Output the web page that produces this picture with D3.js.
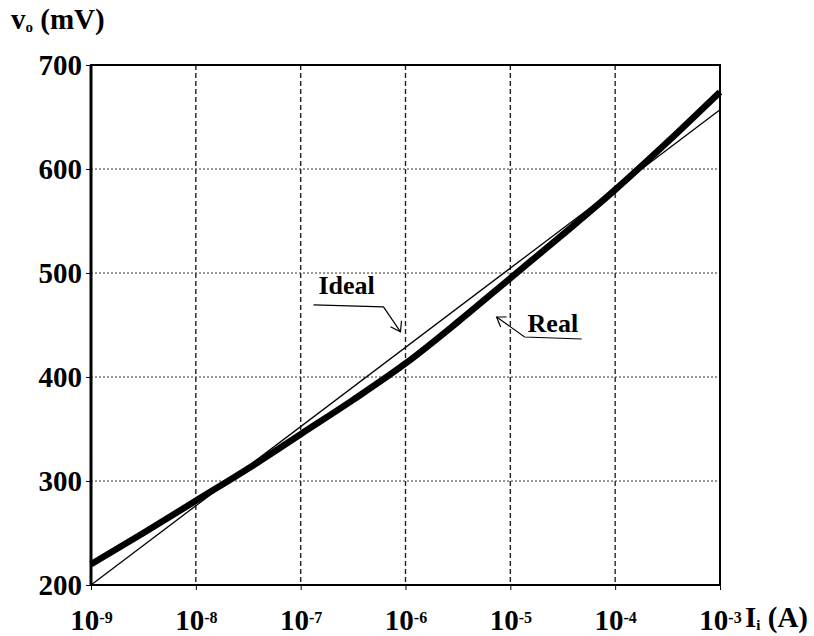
<!DOCTYPE html>
<meta charset="utf-8">
<style>
body { margin: 0; background: #fff; }
svg { font-family: "Liberation Serif", "DejaVu Serif", serif; font-weight: bold; }
.grid-x line { stroke: #222; stroke-width: 1.4; stroke-dasharray: 5,3; }
.grid-y line { stroke: #333; stroke-width: 1; stroke-dasharray: 2,2; }
.axis path, .axis line { stroke: #000; }
.axis text { font-size: 29px; fill: #000; font-family: "Liberation Serif", "DejaVu Serif", serif; }
.frame { fill: none; stroke: #000; stroke-width: 2; }
</style>
<svg width="814" height="636"></svg>
<script src="https://d3js.org/d3.v7.min.js"></script>
<script>

// current exponents (log10 of A)
var decades = [-9, -8, -7, -6, -5, -4, -3];
var yTicks = [200, 300, 400, 500, 600, 700];

// real curve
var realExp = [-9, -8.5, -8, -7.5, -7, -6.5, -6, -5.5, -5, -4.5, -4, -3.5, -3];
var realMv  = [220, 250, 281, 312, 345, 378, 413, 453, 495, 537, 580, 626, 674];

// ideal line end points
var idealExp = [-9, -3];
var idealMv  = [200, 657];

var svg = d3.select("svg"),
    margin = {top: 65, right: 94, bottom: 51, left: 91},
    width = +svg.attr("width"),
    height = +svg.attr("height");

var x = d3.scaleLog()
    .domain([1e-9, 1e-3])
    .range([margin.left, width - margin.right]);

var y = d3.scaleLinear()
    .domain([200, 700])
    .range([height - margin.bottom, margin.top]);

// grid
svg.append("g")
    .attr("class", "grid-y")
  .selectAll("line")
  .data(yTicks.slice(1, -1))
  .enter().append("line")
    .attr("x1", margin.left)
    .attr("x2", width - margin.right)
    .attr("y1", function(d) { return y(d); })
    .attr("y2", function(d) { return y(d); });

svg.append("g")
    .attr("class", "grid-x")
  .selectAll("line")
  .data(decades.slice(1, -1))
  .enter().append("line")
    .attr("x1", function(d) { return x(Math.pow(10, d)); })
    .attr("x2", function(d) { return x(Math.pow(10, d)); })
    .attr("y1", margin.top)
    .attr("y2", height - margin.bottom);

// axes
var yAxis = svg.append("g")
    .attr("class", "axis")
    .attr("transform", "translate(" + margin.left + ",0)")
    .call(d3.axisLeft(y).tickValues(yTicks).tickSize(5).tickPadding(4));
yAxis.select(".domain").remove();
yAxis.attr("font-family", null).attr("font-size", null);

var xAxis = svg.append("g")
    .attr("class", "axis")
    .attr("transform", "translate(0," + (height - margin.bottom) + ")")
    .call(d3.axisBottom(x)
      .tickValues(decades.map(function(d) { return Math.pow(10, d); }))
      .tickSize(5)
      .tickPadding(10)
      .tickFormat(function() { return ""; }));
xAxis.select(".domain").remove();
xAxis.attr("font-family", null).attr("font-size", null);

xAxis.selectAll(".tick text")
    .data(decades)
    .attr("dy", "1.05em")
    .attr("text-anchor", "middle")
    .each(function(d) {
      var t = d3.select(this);
      t.append("tspan").text("10");
      t.append("tspan")
        .attr("dy", "-0.45em")
        .attr("font-size", "16px")
        .text(String(d).replace("-", "\u2011"));
    });

svg.append("rect")
    .attr("class", "frame")
    .attr("x", margin.left)
    .attr("y", margin.top)
    .attr("width", width - margin.left - margin.right)
    .attr("height", height - margin.top - margin.bottom);

svg.append("line")
    .attr("x1", margin.left).attr("x2", margin.left)
    .attr("y1", margin.top).attr("y2", height - margin.bottom)
    .attr("stroke", "#000").attr("stroke-width", 3);

// curves
var line = d3.line()
    .x(function(d) { return x(Math.pow(10, d[0])); })
    .y(function(d) { return y(d[1]); });

svg.append("path")
    .datum(d3.zip(idealExp, idealMv))
    .attr("fill", "none")
    .attr("stroke", "#000")
    .attr("stroke-width", 1.3)
    .attr("d", line);

svg.append("path")
    .datum(d3.zip(realExp, realMv))
    .attr("fill", "none")
    .attr("stroke", "#000")
    .attr("stroke-width", 6.5)
    .attr("d", line.curve(d3.curveMonotoneX));

// axis titles
var yt = svg.append("text")
    .attr("x", 11)
    .attr("y", 29)
    .attr("font-size", "29px");
yt.append("tspan").text("v");
yt.append("tspan").attr("font-size", "15px").attr("dy", "0.2em").text("o");
yt.append("tspan").attr("dy", "-0.12em").text(" (mV)");

var xt = svg.append("text")
    .attr("x", x(1e-3) + 25)
    .attr("y", height - 9)
    .attr("font-size", "29px");
xt.append("tspan").text("I");
xt.append("tspan").attr("font-size", "15px").attr("dy", "0.2em").text("i");
xt.append("tspan").attr("dy", "-0.12em").text(" (A)");

// annotations
var ann = svg.append("g")
    .attr("fill", "none")
    .attr("stroke", "#000")
    .attr("stroke-width", 1.2);

var ix = x(1e-6), iy = y(430);
svg.append("text")
    .attr("x", ix - 87)
    .attr("y", iy - 52)
    .attr("font-size", "26px")
    .text("Ideal");
ann.append("path")
    .attr("d", "M" + (ix - 92) + "," + (iy - 41) + "L" + (ix - 22) + "," + (iy - 39) +
               "L" + (ix - 5) + "," + (iy - 14));
ann.append("path")
    .attr("d", "M" + (ix - 15) + "," + (iy - 19) + "L" + (ix - 5) + "," + (iy - 14) +
               "L" + (ix - 4) + "," + (iy - 25));

var rx = x(Math.pow(10, -5.15)), ry = y(450);
svg.append("text")
    .attr("x", rx + 33)
    .attr("y", ry + 7)
    .attr("font-size", "26px")
    .text("Real");
ann.append("path")
    .attr("d", "M" + (rx + 87) + "," + (ry + 14) + "L" + (rx + 30) + "," + (ry + 12) +
               "L" + (rx + 2) + "," + (ry - 8));
ann.append("path")
    .attr("d", "M" + (rx + 12) + "," + (ry - 8) + "L" + (rx + 2) + "," + (ry - 8) +
               "L" + (rx + 6) + "," + (ry + 2));

</script>
